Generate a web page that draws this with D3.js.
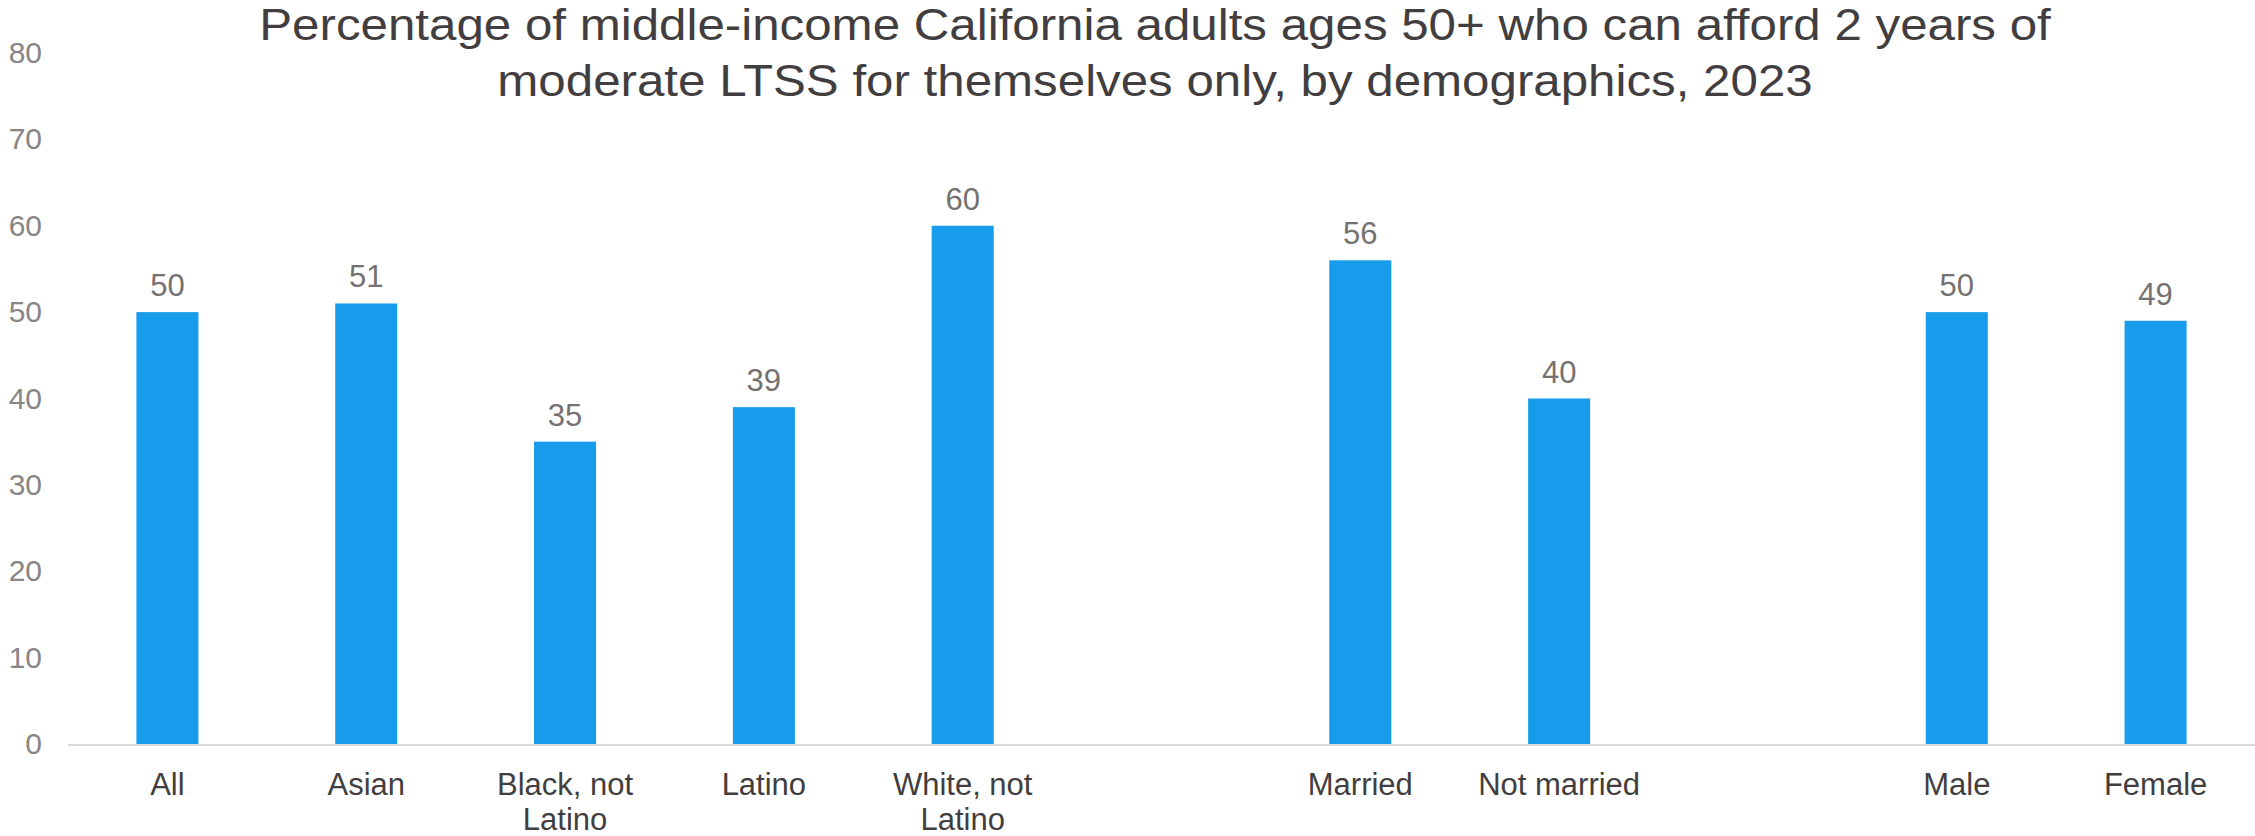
<!DOCTYPE html>
<html>
<head>
<meta charset="utf-8">
<script src="https://cdn.jsdelivr.net/npm/d3@7"></script>
<style>
  html, body { margin: 0; padding: 0; background: #ffffff; }
  svg { display: block; font-family: "Liberation Sans", Arial, sans-serif; }
</style>
</head>
<body>
<svg id="chart" width="2255" height="836"></svg>
<script>
// Share of middle-income California adults 50+ able to afford 2 years of moderate LTSS
const raceLabels = ["All", "Asian", "Black, not Latino", "Latino", "White, not Latino"];
const raceValues = [50, 51, 35, 39, 60];
const maritalLabels = ["Married", "Not married"];
const maritalValues = [56, 40];
const sexLabels = ["Male", "Female"];
const sexValues = [50, 49];
const yTicks = [0, 10, 20, 30, 40, 50, 60, 70, 80];
const titleLines = [
  "Percentage of middle-income California adults ages 50+ who can afford 2 years of",
  "moderate LTSS for themselves only, by demographics, 2023"
];

// Groups are separated by one empty category slot
const groups = [
  { labels: raceLabels, values: raceValues },
  { labels: maritalLabels, values: maritalValues },
  { labels: sexLabels, values: sexValues }
];
const rows = [];
groups.forEach((g, gi) => {
  if (gi > 0) rows.push({ key: "gap" + gi, label: "", value: null });
  g.labels.forEach((l, i) => rows.push({ key: l, label: l, value: g.values[i] }));
});

const svg = d3.select("#chart");
const plot = { left: 68, right: 2255, top: 53, bottom: 744 };

const x = d3.scaleBand()
  .domain(rows.map(d => d.key))
  .range([plot.left, plot.right])
  .paddingInner(0.688)
  .paddingOuter(0.344);

const y = d3.scaleLinear()
  .domain([0, 80])
  .range([plot.bottom, plot.top]);

// Title (slightly widened lettering)
svg.append("g")
  .attr("transform", "translate(1155,0) scale(1.12,1)")
  .append("text")
  .attr("text-anchor", "middle")
  .attr("fill", "#423e3f")
  .style("font-size", "44px")
  .selectAll("tspan")
  .data(titleLines)
  .join("tspan")
  .attr("x", 0)
  .attr("y", (d, i) => 40 + i * 56)
  .text(d => d);

// Y axis: labels only
const yAxis = svg.append("g")
  .attr("transform", `translate(${plot.left},0)`)
  .call(d3.axisLeft(y).tickValues(yTicks).tickSize(0).tickPadding(26));
yAxis.select(".domain").remove();
yAxis.selectAll("text")
  .attr("fill", "#898585")
  .style("font-size", "30px")
  .style("font-family", "'Liberation Sans', Arial, sans-serif");

// Bars
const data = rows.filter(d => d.value !== null);
svg.append("g")
  .selectAll("rect")
  .data(data)
  .join("rect")
  .attr("x", d => x(d.key))
  .attr("width", x.bandwidth())
  .attr("y", d => y(d.value))
  .attr("height", d => y(0) - y(d.value))
  .attr("fill", "#169CEB");

// Value labels
svg.append("g")
  .selectAll("text")
  .data(data)
  .join("text")
  .attr("x", d => x(d.key) + x.bandwidth() / 2)
  .attr("y", d => y(d.value) - 16)
  .attr("text-anchor", "middle")
  .attr("fill", "#767171")
  .style("font-size", "31px")
  .text(d => d.value);

// X axis baseline and category labels
const xAxis = svg.append("g")
  .attr("transform", `translate(0,${plot.bottom + 1})`)
  .call(d3.axisBottom(x).tickSize(0).tickPadding(0).tickFormat(k => {
    const r = rows.find(d => d.key === k);
    return r ? r.label : "";
  }));
xAxis.select(".domain")
  .attr("stroke", "#d9d9d9")
  .attr("stroke-width", 2)
  .attr("d", `M${plot.left},0H${plot.right}`);

const slot = x.step();
xAxis.selectAll(".tick text")
  .attr("fill", "#423e3f")
  .style("font-size", "31px")
  .style("font-family", "'Liberation Sans', Arial, sans-serif")
  .attr("dy", null)
  .attr("y", 0)
  .each(function () {
    const t = d3.select(this);
    const words = t.text().split(/\s+/).filter(w => w);
    t.text(null);
    let lines = [];
    let line = [];
    const probe = t.append("tspan").attr("x", 0);
    words.forEach(w => {
      line.push(w);
      probe.text(line.join(" "));
      if (probe.node().getComputedTextLength() > slot * 0.95 && line.length > 1) {
        line.pop();
        lines.push(line.join(" "));
        line = [w];
      }
    });
    if (line.length) lines.push(line.join(" "));
    probe.remove();
    lines.forEach((l, i) => {
      t.append("tspan").attr("x", 0).attr("y", 50 + i * 35).text(l);
    });
  });
</script>
</body>
</html>
